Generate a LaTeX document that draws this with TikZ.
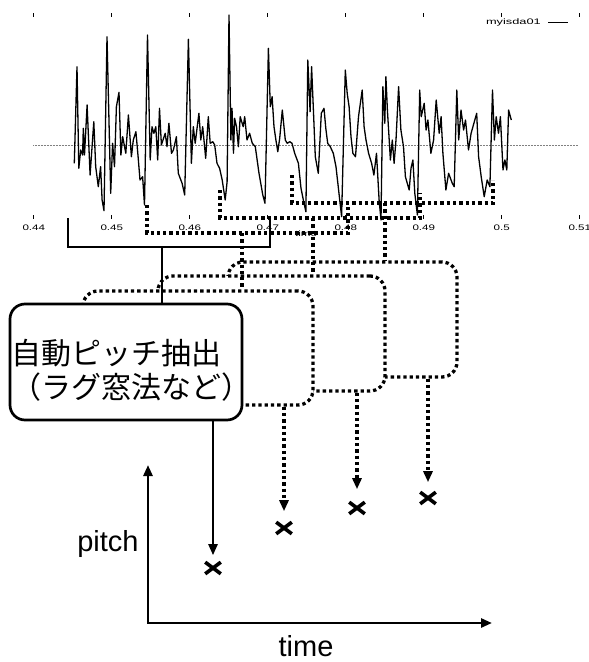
\documentclass[tikz,border=0pt]{standalone}
\usepackage{graphicx}
\usepackage{fontspec}
\setmainfont{Liberation Sans}
\newfontfamily\jpfont{Noto Sans CJK JP}
\usetikzlibrary{arrows.meta,shapes.misc}
\newcommand\plotlbl[1]{\scalebox{1.45}[1]{\fontsize{8}{9}\selectfont #1}}
\begin{document}
\begin{tikzpicture}[x=1pt,y=-1pt,
  wave/.style={line width=1.3pt,line join=round},
  sframe/.style={line width=2.8pt},
  dframe/.style={line width=3.3pt,dash pattern=on 3.3pt off 3pt},
  boxbase/.style={draw,line width=2.7pt,rounded corners=15pt,fill=white,inner sep=0pt},
  mainbox/.style={boxbase},
  dotbox/.style={boxbase,line width=3.3pt,dash pattern=on 3.3pt off 3pt},
  sarr/.style={line width=2.3pt,-{Triangle[length=11pt,width=9pt]}},
  darr/.style={line width=3.3pt,dash pattern=on 3.3pt off 3pt,-{Triangle[length=11pt,width=9pt]}},
  xmark/.style={draw,cross out,line width=3.6pt,minimum width=12pt,minimum height=8pt,inner sep=0pt},
  axisline/.style={line width=2.7pt,{Triangle[length=11pt,width=9pt]}-{Triangle[length=11pt,width=9pt]}},
  lab/.style={font=\fontsize{29}{34}\selectfont,inner sep=0pt},
  jlab/.style={font=\jpfont\fontsize{30}{34}\selectfont,inner sep=0pt},
  tick/.style={line width=0.8pt}
]
\useasboundingbox (0,0) rectangle (589,662);

% ---- plot frame: ticks, labels, zero line, legend
\foreach \i/\l in {0/0.44,1/0.45,2/0.46,3/0.47,4/0.48,5/0.49,6/0.5,7/0.51}{
  \draw[tick] ({33.8+78*\i},13) -- ({33.8+78*\i},17);
  \draw[tick] ({33.8+78*\i},215) -- ({33.8+78*\i},219);
  \node[inner sep=0pt] (tl\i) at ({33.8+78*\i},228) {\plotlbl{\l}};
}
\node[inner sep=0pt] (timesmall) at (306,234) {\plotlbl{time}};
\draw[gray,line width=0.6pt,dash pattern=on 0.7pt off 0.8pt] (33,145) -- (578,145);
\node[inner sep=0pt,anchor=east] (leg) at (541,22.5) {\scalebox{1.6}[1]{\fontsize{8}{9}\selectfont myisda01}};
\draw[line width=0.8pt] (548,22) -- (568,22);

% ---- waveform
\draw[wave] (74.3,163.3) -- (77.0,66.7) -- (78.8,168.3) -- (80.7,150) -- (82.6,155) -- (83.3,128.3) -- (84.5,155) -- (87.1,105) -- (90.1,175) -- (93.8,121.7) -- (95.7,166.7) -- (98.3,186.7) -- (100.6,166.7) -- (102.1,200) -- (104,210.7) -- (107,36.7) -- (110.7,193.3) -- (112.6,143.3) -- (114.5,166.7) -- (116.4,106.7) -- (119,92.3) -- (120.9,155) -- (122.7,136.7) -- (125.8,153.3) -- (128.4,115) -- (131.4,156.7) -- (133.3,140) -- (135.9,131.7) -- (138.1,156.7) -- (140,180) -- (142.6,176.7) -- (144.5,205) -- (147.5,35) -- (150.2,160) -- (152,126.7) -- (153.9,133.3) -- (155.8,126.7) -- (157.7,160) -- (159.5,108.3) -- (161.4,145) -- (165.2,133.3) -- (167,146.7) -- (168.9,123.3) -- (171.5,153.3) -- (173.4,150) -- (176.4,136.7) -- (178.3,173.3) -- (182.1,183.3) -- (184.7,195) -- (188.4,39.3) -- (191.4,163.3) -- (193.3,126.7) -- (195.2,143.3) -- (198.9,113.3) -- (200.8,140) -- (202.7,126.7) -- (205.7,158.3) -- (208.3,116.7) -- (210.2,143.3) -- (212.8,141.7) -- (214.7,145) -- (217,163.3) -- (219.6,168.3) -- (222.2,180) -- (225.2,200) -- (227.1,181.7) -- (229,15) -- (230.9,140) -- (232,108.3) -- (233.5,153.3) -- (234.6,118.3) -- (236.5,126.7) -- (238.4,146.7) -- (240.2,116.7) -- (243.2,126.7) -- (244.7,116.7) -- (247,140) -- (249.6,133.3) -- (252.3,143.3) -- (255.3,146.7) -- (259,173.3) -- (262.8,195) -- (265,203.3) -- (268.4,48.3) -- (270.3,106.7) -- (272.1,96.7) -- (274,126.7) -- (275.9,140) -- (277.8,151.7) -- (279.7,138.3) -- (282.3,110) -- (285.3,140) -- (287.2,143.3) -- (289.8,141.7) -- (292,143.3) -- (294.7,153.3) -- (298.4,163.3) -- (301,188.3) -- (304,203.3) -- (305.9,211.7) -- (307.8,60) -- (310.1,111.7) -- (311.6,66.7) -- (313.4,110) -- (315.3,156.7) -- (318.3,173.3) -- (321.3,113.3) -- (324,108.3) -- (325.8,128.3) -- (327.7,143.3) -- (330.3,146.7) -- (333.3,153.3) -- (336,166.7) -- (338.6,190) -- (341.6,216.7) -- (345.3,70) -- (347.2,93.3) -- (349.1,106.7) -- (351,136.7) -- (352.9,153.3) -- (355.5,156.7) -- (358.5,116.7) -- (362.2,90) -- (364.1,126.7) -- (366,140) -- (368.6,153.3) -- (371.6,163.3) -- (373.9,175) -- (376.5,153.3) -- (379.1,200) -- (381,220) -- (382.9,86.7) -- (384.8,123.3) -- (385.9,76.7) -- (387.4,110) -- (390.4,160) -- (392.3,140) -- (394.1,163.3) -- (396,140) -- (398.6,86.7) -- (400.9,130) -- (403.5,146.7) -- (405.4,176.7) -- (409.2,190) -- (411,168.3) -- (412.9,160) -- (414.8,193.3) -- (417.4,215) -- (419.7,90) -- (421.2,116.7) -- (424.2,103.3) -- (426.1,130) -- (427.9,120) -- (430.9,153.3) -- (433.6,140) -- (436.2,100) -- (439.2,133.3) -- (441.1,116.7) -- (442.9,153.3) -- (445.9,190) -- (448.6,173.3) -- (452.3,183.3) -- (454.2,186.7) -- (456.8,90) -- (458.7,140) -- (461,110) -- (463.6,130) -- (465.5,120) -- (468.5,150) -- (471.1,133.3) -- (474.8,120) -- (476.7,113.3) -- (478.6,156.7) -- (481.2,176.7) -- (484.2,196.7) -- (487.2,180) -- (489.9,186.7) -- (492.5,90) -- (494.4,140) -- (496.2,116.7) -- (498.5,133.3) -- (500.4,116.7) -- (503,170) -- (504.9,160) -- (506.8,170) -- (508.6,110) -- (511.3,120);

% ---- analysis frames (brackets)
\draw[sframe] (68,218) -- (68,247) -- (270,247) -- (270,218);
\draw[dframe] (147,205) -- (147,233) -- (348,233) -- (348,207);
\draw[dframe] (220,190) -- (220,218) -- (420,218) -- (420,193);
\draw[dframe] (292,175) -- (292,203) -- (493,203) -- (493,180);
\coordinate (f1) at (162,247);
\coordinate (f2) at (242,233);
\coordinate (f3) at (313,218);
\coordinate (f4) at (385,203);

% ---- processing boxes (back to front)
\node[dotbox,minimum width=229pt,minimum height=115pt] (bC) at (342.5,319.5) {};
\node[dotbox,minimum width=227pt,minimum height=115pt] (bB) at (271.5,333.5) {};
\node[dotbox,minimum width=230pt,minimum height=114pt] (bA) at (198,348) {};
\node[mainbox,minimum width=232pt,minimum height=116pt] (bM) at (126,362) {};
\node[jlab,anchor=base west] (t1) at (11,364) {自動ピッチ抽出};
\node[jlab,anchor=base west] (t2) at (11,398) {（ラグ窓法など）};

% ---- connectors from frames to boxes
\draw[line width=2.3pt] (f1) -- (f1 |- bM.north);
\draw[dframe] (f2) -- (f2 |- bA.north);
\draw[dframe] (f3) -- (f3 |- bB.north);
\draw[dframe] (f4) -- (f4 |- bC.north);

% ---- pitch marks
\node[xmark] (x1) at (213,568) {};
\node[xmark] (x2) at (284,528) {};
\node[xmark] (x3) at (357,508) {};
\node[xmark] (x4) at (428,498) {};
\draw[sarr] (bM.south -| x1) -- ([yshift=7pt]x1.north);
\draw[darr] (bA.south -| x2) -- ([yshift=11pt]x2.north);
\draw[darr] (bB.south -| x3) -- ([yshift=13pt]x3.north);
\draw[darr] (bC.south -| x4) -- ([yshift=10pt]x4.north);

% ---- axes
\coordinate (O) at (148,623);
\coordinate (ytop) at (148,465);
\coordinate (xend) at (492,623);
\draw[axisline] (ytop) -- (O) -- (xend);
\node[lab,anchor=base] (pitchlbl) at (108,551) {pitch};
\node[lab,anchor=base] (timelbl) at (306,656) {time};
\end{tikzpicture}
\end{document}
